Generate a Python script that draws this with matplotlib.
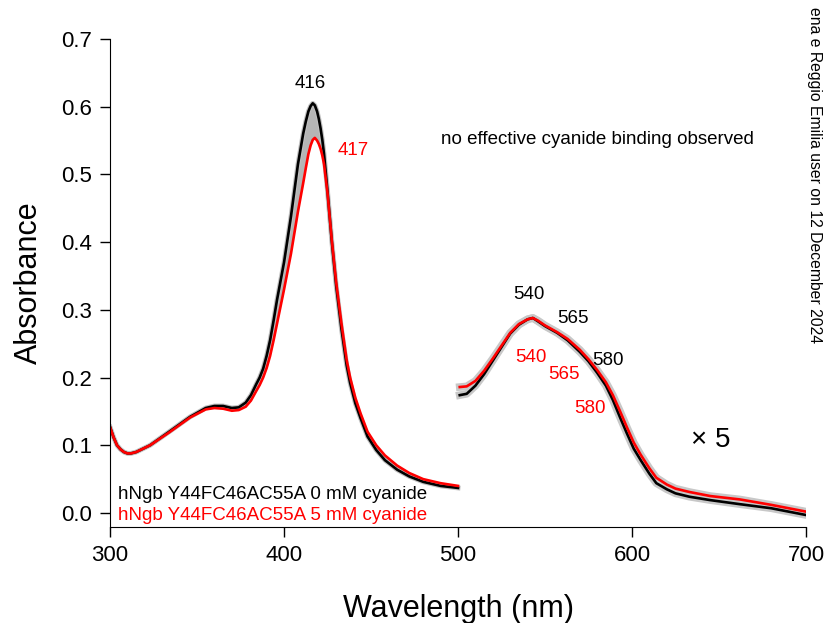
import numpy as np
import matplotlib.pyplot as plt

plt.rcParams['font.family'] = ['Liberation Sans', 'DejaVu Sans']

# Soret region (300-500 nm), measured absorbance
wl_soret = [300, 302, 304, 306, 308, 310, 312, 315, 323, 334, 346, 355, 360, 365, 370, 374,
            378, 381, 384, 386, 388, 390, 392, 394, 396, 400, 404, 408, 411, 412.5, 414,
            415.3, 416.5, 417.7, 419, 420, 421, 422, 423, 425, 427.5, 430, 433, 436, 438,
            441, 444, 448, 453, 458, 465, 472, 480, 490, 500]
abs0_soret = [0.127, 0.112, 0.100, 0.094, 0.090, 0.088, 0.088, 0.090, 0.100, 0.120, 0.142,
              0.155, 0.158, 0.158, 0.155, 0.156, 0.163, 0.174, 0.190, 0.200, 0.213, 0.232,
              0.255, 0.284, 0.315, 0.370, 0.438, 0.515, 0.560, 0.578, 0.593, 0.601, 0.605,
              0.602, 0.593, 0.582, 0.568, 0.551, 0.530, 0.475, 0.400, 0.335, 0.272, 0.218,
              0.192, 0.162, 0.140, 0.113, 0.093, 0.078, 0.064, 0.054, 0.046, 0.040, 0.037]
abs5_soret = [0.127, 0.112, 0.100, 0.094, 0.090, 0.088, 0.088, 0.090, 0.100, 0.119, 0.141,
              0.153, 0.155, 0.154, 0.151, 0.152, 0.157, 0.166, 0.180, 0.189, 0.200, 0.214,
              0.232, 0.255, 0.280, 0.330, 0.383, 0.445, 0.487, 0.509, 0.530, 0.543, 0.551,
              0.554, 0.550, 0.545, 0.538, 0.528, 0.515, 0.472, 0.402, 0.340, 0.280, 0.226,
              0.200, 0.170, 0.147, 0.120, 0.100, 0.085, 0.070, 0.059, 0.050, 0.044, 0.040]

# visible region (500-700 nm), shown x 5
wl_vis = [501, 505, 510, 515, 520, 525, 530, 535, 540, 543, 546, 550, 557, 563, 570, 575,
          580, 585, 589, 593, 597, 601, 605, 610, 614, 620, 625, 633, 645, 662, 680, 700]
abs0_vis = [0.174, 0.176, 0.188, 0.205, 0.225, 0.245, 0.265, 0.278, 0.286, 0.288, 0.283,
            0.276, 0.266, 0.255, 0.238, 0.224, 0.207, 0.188, 0.167, 0.142, 0.118, 0.095,
            0.078, 0.058, 0.044, 0.035, 0.029, 0.024, 0.019, 0.013, 0.007, -0.003]
abs5_vis = [0.186, 0.187, 0.195, 0.210, 0.228, 0.247, 0.266, 0.279, 0.286, 0.288, 0.284,
            0.277, 0.267, 0.257, 0.241, 0.227, 0.211, 0.193, 0.174, 0.151, 0.127, 0.104,
            0.086, 0.066, 0.052, 0.042, 0.036, 0.031, 0.025, 0.020, 0.012, 0.002]

fig = plt.figure(figsize=(8.28, 6.23), dpi=100)
ax = fig.add_axes([0.1329, 0.1541, 0.8405, 0.7833])

# gray band = intermediate titration spectra
ax.fill_between(wl_soret, abs0_soret, abs5_soret, color='#b5b5b5', lw=0)
ax.plot(wl_soret, abs0_soret, color='#c0c0c0', lw=3.5)
ax.plot(wl_vis, abs0_vis, color='#c8c8c8', lw=5.5)
ax.plot(wl_vis, abs5_vis, color='#c8c8c8', lw=5.5)

ax.plot(wl_soret, abs0_soret, color='black', lw=1.9)
ax.plot(wl_soret, abs5_soret, color='red', lw=1.9)
ax.plot(wl_vis, abs0_vis, color='black', lw=1.9)
ax.plot(wl_vis, abs5_vis, color='red', lw=1.9)

ax.set_xlim(300, 700)
ax.set_ylim(-0.0207, 0.7)
ax.set_xticks([300, 400, 500, 600, 700])
ax.set_yticks([0.0, 0.1, 0.2, 0.3, 0.4, 0.5, 0.6, 0.7])
ax.set_yticklabels(['0.0', '0.1', '0.2', '0.3', '0.4', '0.5', '0.6', '0.7'])
ax.spines['top'].set_visible(False)
ax.spines['right'].set_visible(False)
ax.tick_params(direction='out', length=7, width=1, labelsize=16, pad=6)
ax.set_xlabel('Wavelength (nm)', fontsize=22, labelpad=20)
ax.set_ylabel('Absorbance', fontsize=22, labelpad=12)

fs = 13.5
ax.text(415, 0.635, '416', fontsize=fs, ha='center', va='center')
ax.text(440, 0.536, '417', fontsize=fs, ha='center', va='center', color='red')
ax.text(490, 0.552, 'no effective cyanide binding observed', fontsize=fs, ha='left', va='center')
ax.text(541, 0.322, '540', fontsize=fs, ha='center', va='center')
ax.text(566, 0.287, '565', fontsize=fs, ha='center', va='center')
ax.text(586, 0.225, '580', fontsize=fs, ha='center', va='center')
ax.text(542, 0.229, '540', fontsize=fs, ha='center', va='center', color='red')
ax.text(561, 0.204, '565', fontsize=fs, ha='center', va='center', color='red')
ax.text(576, 0.155, '580', fontsize=fs, ha='center', va='center', color='red')
ax.text(645, 0.108, '× 5', fontsize=20, ha='center', va='center')
ax.text(304.6, 0.028, 'hNgb Y44FC46AC55A 0 mM cyanide', fontsize=fs, ha='left', va='center')
ax.text(304.6, -0.003, 'hNgb Y44FC46AC55A 5 mM cyanide', fontsize=fs, ha='left', va='center',
        color='red')

fig.text(0.984, 1 - 343 / 623,
         'ena e Reggio Emilia user on 12 December 2024',
         rotation=270, ha='center', va='bottom', fontsize=11.3, color='black')

fig.savefig('out.png', dpi=100)
